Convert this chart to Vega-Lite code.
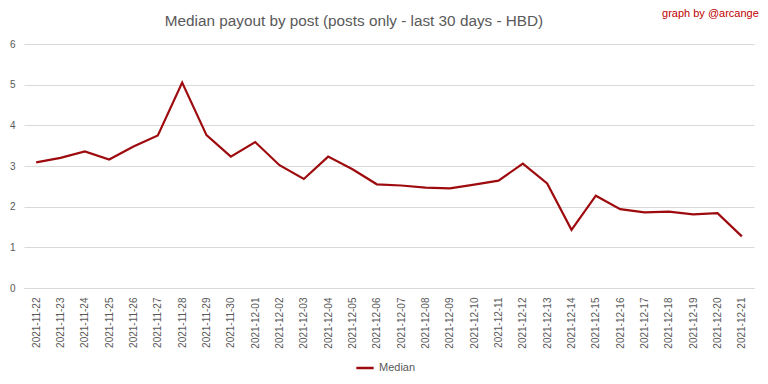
{
  "$schema": "https://vega.github.io/schema/vega-lite/v6.json",
  "width": 730,
  "height": 244,
  "autosize": {"type": "none"},
  "padding": {"left": 24, "top": 44, "right": 14, "bottom": 96},
  "background": "white",
  "config": {
    "view": {"stroke": null},
    "font": "Liberation Sans"
  },
  "title": {
    "text": "Median payout by post (posts only - last 30 days - HBD)",
    "fontSize": 15.3,
    "fontWeight": "normal",
    "color": "#595959",
    "anchor": "middle",
    "dx": -35,
    "offset": -21
  },
  "data": {
    "values": [
      {"date": "2021-11-22", "value": 3.09, "series": "Median"},
      {"date": "2021-11-23", "value": 3.20, "series": "Median"},
      {"date": "2021-11-24", "value": 3.36, "series": "Median"},
      {"date": "2021-11-25", "value": 3.16, "series": "Median"},
      {"date": "2021-11-26", "value": 3.48, "series": "Median"},
      {"date": "2021-11-27", "value": 3.75, "series": "Median"},
      {"date": "2021-11-28", "value": 5.05, "series": "Median"},
      {"date": "2021-11-29", "value": 3.76, "series": "Median"},
      {"date": "2021-11-30", "value": 3.23, "series": "Median"},
      {"date": "2021-12-01", "value": 3.59, "series": "Median"},
      {"date": "2021-12-02", "value": 3.02, "series": "Median"},
      {"date": "2021-12-03", "value": 2.68, "series": "Median"},
      {"date": "2021-12-04", "value": 3.23, "series": "Median"},
      {"date": "2021-12-05", "value": 2.92, "series": "Median"},
      {"date": "2021-12-06", "value": 2.55, "series": "Median"},
      {"date": "2021-12-07", "value": 2.52, "series": "Median"},
      {"date": "2021-12-08", "value": 2.47, "series": "Median"},
      {"date": "2021-12-09", "value": 2.45, "series": "Median"},
      {"date": "2021-12-10", "value": 2.54, "series": "Median"},
      {"date": "2021-12-11", "value": 2.64, "series": "Median"},
      {"date": "2021-12-12", "value": 3.06, "series": "Median"},
      {"date": "2021-12-13", "value": 2.57, "series": "Median"},
      {"date": "2021-12-14", "value": 1.43, "series": "Median"},
      {"date": "2021-12-15", "value": 2.27, "series": "Median"},
      {"date": "2021-12-16", "value": 1.94, "series": "Median"},
      {"date": "2021-12-17", "value": 1.86, "series": "Median"},
      {"date": "2021-12-18", "value": 1.88, "series": "Median"},
      {"date": "2021-12-19", "value": 1.81, "series": "Median"},
      {"date": "2021-12-20", "value": 1.84, "series": "Median"},
      {"date": "2021-12-21", "value": 1.27, "series": "Median"}
    ]
  },
  "layer": [
    {
      "mark": {"type": "line", "strokeWidth": 2.2},
      "encoding": {
        "x": {
          "field": "date",
          "type": "ordinal",
          "scale": {"type": "point", "padding": 0.5},
          "axis": {
            "title": null,
            "labelAngle": 270,
            "labelAlign": "right",
            "labelBaseline": "middle",
            "labelFontSize": 10,
            "labelColor": "#595959",
            "labelPadding": 9,
            "ticks": false,
            "domain": true,
            "domainColor": "#d9d9d9",
            "grid": false
          }
        },
        "y": {
          "field": "value",
          "type": "quantitative",
          "scale": {"domain": [0, 6], "nice": false},
          "axis": {
            "title": null,
            "values": [0, 1, 2, 3, 4, 5, 6],
            "labelFontSize": 10,
            "labelColor": "#595959",
            "labelPadding": 9,
            "ticks": false,
            "domain": false,
            "grid": true,
            "gridColor": "#d9d9d9",
            "gridWidth": 1
          }
        },
        "color": {
          "field": "series",
          "type": "nominal",
          "scale": {"range": ["#9e0b0f"]},
          "legend": {
            "title": null,
            "orient": "none",
            "legendX": 331,
            "legendY": 314,
            "direction": "horizontal",
            "symbolType": "stroke",
            "symbolStrokeWidth": 2.5,
            "symbolSize": 300,
            "labelFontSize": 11,
            "labelColor": "#595959"
          }
        }
      }
    },
    {
      "data": {"values": [{"date": "2021-12-21", "value": 6.0, "label": "graph by @arcange"}]},
      "mark": {
        "type": "text",
        "align": "right",
        "baseline": "middle",
        "fontSize": 11,
        "color": "#c00000",
        "dx": 17,
        "dy": -30,
        "clip": false
      },
      "encoding": {
        "x": {"field": "date", "type": "ordinal"},
        "y": {"field": "value", "type": "quantitative"},
        "text": {"field": "label"}
      }
    }
  ]
}
